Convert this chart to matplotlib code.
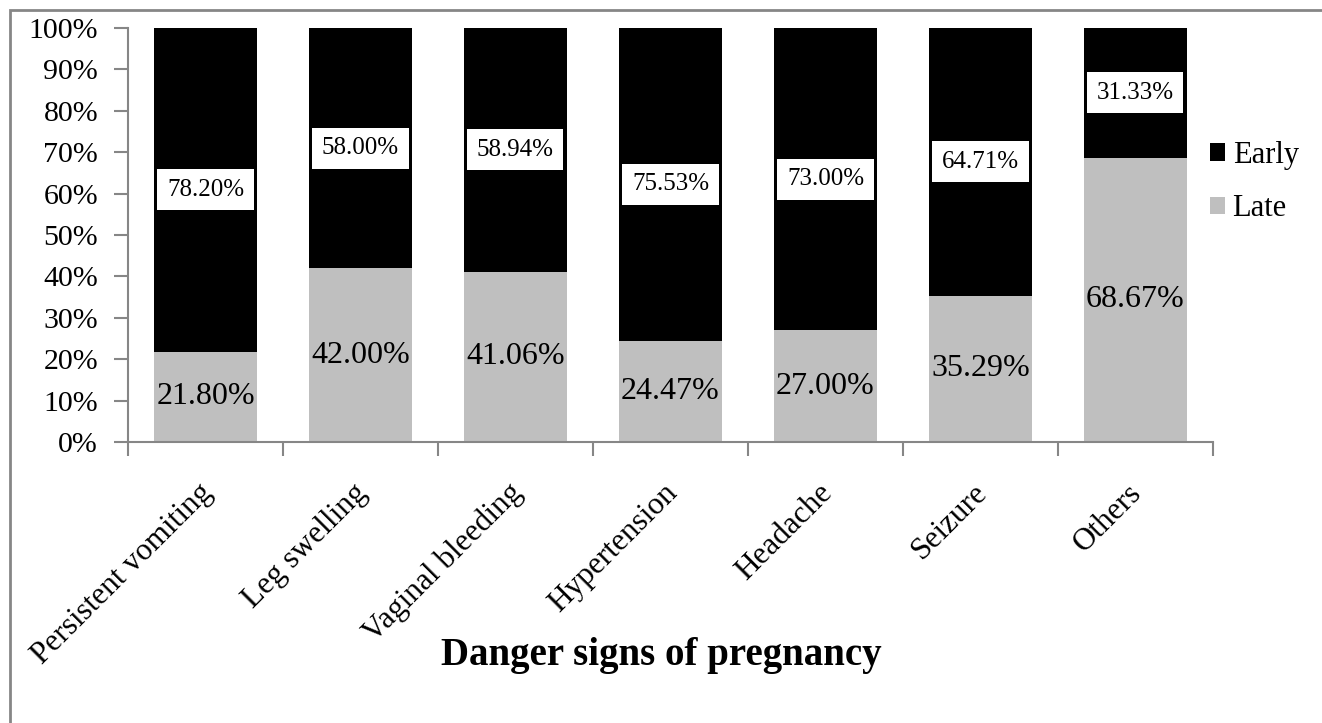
import numpy as np
import matplotlib
matplotlib.use("agg")
import matplotlib.pyplot as plt
import matplotlib.transforms as mtransforms
from matplotlib.patches import Rectangle
from matplotlib.ticker import FixedLocator, PercentFormatter

categories = ["Persistent vomiting", "Leg swelling", "Vaginal bleeding",
              "Hypertension", "Headache", "Seizure", "Others"]
late = [21.80, 42.00, 41.06, 24.47, 27.00, 35.29, 68.67]
early = [78.20, 58.00, 58.94, 75.53, 73.00, 64.71, 31.33]

plt.rcParams["font.family"] = ["Liberation Serif", "DejaVu Serif"]
spine_col = "#868686"

fig = plt.figure(figsize=(13.22, 7.23), dpi=100)
ax = fig.add_axes([0.0968, 0.3887, 0.8207, 0.5726])

# outer frame around the chart area
fig.patches.append(Rectangle((10 / 1322, -0.1), 1.2, 1 - 10 / 723 + 0.1,
                             transform=fig.transFigure, fill=False,
                             edgecolor=spine_col, linewidth=2))

x = np.arange(len(categories))
width = 0.67
ax.bar(x, late, width, color="#bfbfbf", label="Late")
ax.bar(x, early, width, bottom=late, color="black", label="Early")

for i in range(len(categories)):
    ax.text(x[i], late[i] / 2, f"{late[i]:.2f}%", ha="center", va="center",
            fontsize=23)
    ax.text(x[i], late[i] + early[i] / 2, f"{early[i]:.2f}%", ha="center",
            va="center", fontsize=18,
            bbox=dict(boxstyle="square,pad=0.38", fc="white", ec="none"))

ax.set_xlim(-0.5, len(categories) - 0.5)
ax.set_ylim(0, 100)
ax.yaxis.set_major_locator(FixedLocator(np.arange(0, 101, 10)))
ax.yaxis.set_major_formatter(PercentFormatter(decimals=0))
ax.tick_params(axis="y", labelsize=21.5, length=10, width=1.5, color=spine_col, pad=11.5)

ax.set_xticks(x)
ax.set_xticklabels(categories, rotation=45, ha="right", rotation_mode="anchor",
                   fontsize=22.5)
ax.tick_params(axis="x", length=0, pad=26)
ax.set_xticks(np.arange(-0.5, len(categories)), minor=True)
ax.tick_params(axis="x", which="minor", length=10, width=1.5, color=spine_col)

# nudge the slanted category names a little to the left
shift = mtransforms.ScaledTranslation(-0.08, 0, fig.dpi_scale_trans)
for lbl in ax.get_xticklabels():
    lbl.set_transform(lbl.get_transform() + shift)

for s in ["top", "right"]:
    ax.spines[s].set_visible(False)
for s in ["left", "bottom"]:
    ax.spines[s].set_color(spine_col)
    ax.spines[s].set_linewidth(1.5)

fig.text(661 / 1322, 1 - 655 / 723, "Danger signs of pregnancy", fontsize=28,
         fontweight="bold", ha="center", va="center")

handles, labels = ax.get_legend_handles_labels()
ax.legend(handles[::-1], labels[::-1], loc="center left",
          bbox_to_anchor=(0.997, 0.628), frameon=False, fontsize=22,
          handlelength=0.5, handleheight=0.5, handletextpad=0.25,
          labelspacing=0.8, borderaxespad=0, borderpad=0)

fig.savefig("out.png", dpi=100)
